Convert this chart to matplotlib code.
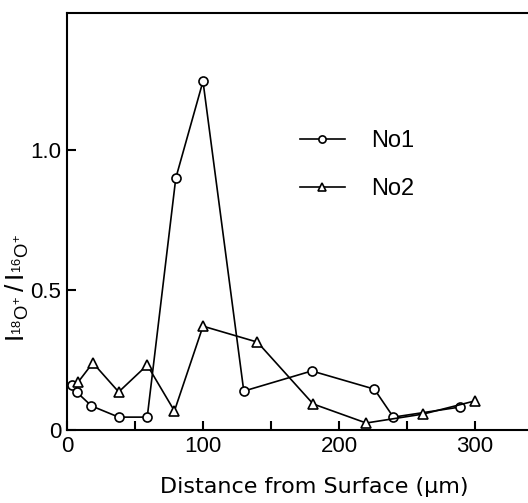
import matplotlib
matplotlib.use("Agg")
import matplotlib.pyplot as plt
from matplotlib.ticker import MultipleLocator

# distance from surface (um) and isotope ratio
no1_x = [4, 7, 18, 38, 59, 80, 100, 130, 180, 226, 240, 289]
no1_y = [0.16, 0.136, 0.086, 0.046, 0.046, 0.90, 1.246, 0.139, 0.211, 0.146, 0.046, 0.082]

no2_x = [8, 19, 38, 59, 79, 100, 140, 181, 220, 262, 300]
no2_y = [0.17, 0.24, 0.136, 0.232, 0.068, 0.371, 0.314, 0.093, 0.025, 0.057, 0.104]

x_ticks = [0, 100, 200, 300]
y_ticks = [0, 0.5, 1.0]
y_tick_labels = ["0", "0.5", "1.0"]

plt.rcParams["font.family"] = ["Liberation Sans", "DejaVu Sans"]
plt.rcParams["mathtext.fontset"] = "custom"
plt.rcParams["mathtext.rm"] = "Liberation Sans"

W, H = 528, 503
fig = plt.figure(figsize=(W / 100, H / 100), dpi=100)
ax = fig.add_axes([67 / W, 73 / H, 1 - 67 / W, 417 / H])

line_kw = dict(color="black", lw=1.2, markerfacecolor="white",
               markeredgecolor="black", markeredgewidth=1.2)
ax.plot(no1_x, no1_y, marker="o", markersize=6.5, label="No1", **line_kw)
ax.plot(no2_x, no2_y, marker="^", markersize=7, label="No2", **line_kw)

ax.set_xlim(0, 339)
ax.set_ylim(0, 1.49)
ax.spines["right"].set_visible(False)
for s in ("left", "top", "bottom"):
    ax.spines[s].set_linewidth(1.5)

ax.set_xticks(x_ticks)
ax.set_xticklabels([str(v) for v in x_ticks])
ax.xaxis.set_minor_locator(MultipleLocator(50))
ax.set_yticks(y_ticks)
ax.set_yticklabels(y_tick_labels)
ax.tick_params(axis="both", which="both", direction="in", length=6.5, width=1.5,
               labelsize=16, top=False, right=False)
ax.tick_params(axis="y", pad=4)
ax.tick_params(axis="x", pad=4)

ax.set_xlabel("Distance from Surface (\u03bcm)", fontsize=16, family="DejaVu Sans")
ax.xaxis.set_label_coords((314 - 67) / (W - 67), -0.112)
ax.set_ylabel(r"$\mathrm{I}_{^{18}\mathrm{O}^{+}}\,/\,\mathrm{I}_{^{16}\mathrm{O}^{+}}$", fontsize=19)
ax.yaxis.set_label_coords(-0.078, (430 - 288) / 417)

ax.legend(loc="upper left", bbox_to_anchor=(300 / W, 1 - 130 / H),
          bbox_transform=fig.transFigure, frameon=False, fontsize=17,
          handlelength=1.9, handletextpad=1.1, labelspacing=1.1,
          borderpad=0, borderaxespad=0, markerscale=0.8)

fig.savefig("out.png", dpi=100)
